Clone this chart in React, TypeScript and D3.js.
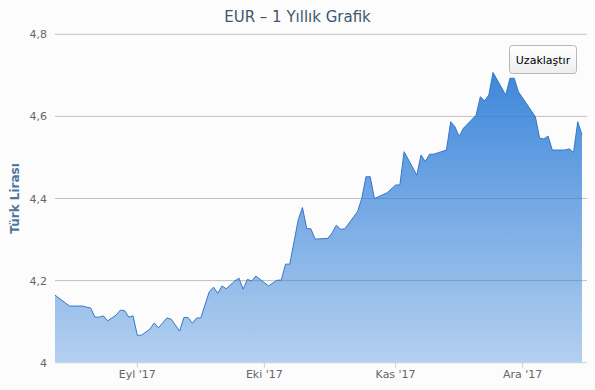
import React from 'react';
import * as d3 from 'd3';

const dates: string[] = [
  '2017-08-12','2017-08-16','2017-08-19','2017-08-21','2017-08-22','2017-08-23','2017-08-24','2017-08-25','2017-08-27','2017-08-28',
  '2017-08-29','2017-08-30','2017-08-31','2017-09-01','2017-09-02','2017-09-04','2017-09-05','2017-09-06','2017-09-08','2017-09-09',
  '2017-09-11','2017-09-12','2017-09-13','2017-09-14','2017-09-15','2017-09-16','2017-09-18','2017-09-19','2017-09-20','2017-09-21',
  '2017-09-22','2017-09-24','2017-09-25','2017-09-26','2017-09-27','2017-09-28','2017-09-29','2017-10-02','2017-10-04','2017-10-05',
  '2017-10-06','2017-10-07','2017-10-09','2017-10-10','2017-10-11','2017-10-12','2017-10-13','2017-10-16','2017-10-17','2017-10-18',
  '2017-10-19','2017-10-20','2017-10-23','2017-10-24','2017-10-25','2017-10-26','2017-10-27','2017-10-30','2017-11-01','2017-11-02',
  '2017-11-03','2017-11-06','2017-11-07','2017-11-08','2017-11-09','2017-11-10','2017-11-13','2017-11-14','2017-11-15','2017-11-16',
  '2017-11-17','2017-11-20','2017-11-21','2017-11-22','2017-11-23','2017-11-24','2017-11-27','2017-11-28','2017-11-29','2017-11-30',
  '2017-12-04','2017-12-05','2017-12-06','2017-12-07','2017-12-08','2017-12-11','2017-12-12','2017-12-13','2017-12-14','2017-12-15',
];

const values: number[] = [
  4.169, 4.138, 4.138, 4.133, 4.111, 4.111, 4.114, 4.102, 4.116, 4.128,
  4.127, 4.111, 4.114, 4.067, 4.067, 4.082, 4.097, 4.085, 4.109, 4.106,
  4.077, 4.110, 4.110, 4.096, 4.109, 4.109, 4.173, 4.184, 4.169, 4.187,
  4.180, 4.199, 4.206, 4.179, 4.203, 4.199, 4.211, 4.187, 4.201, 4.201,
  4.240, 4.240, 4.348, 4.378, 4.327, 4.326, 4.301, 4.303, 4.316, 4.335,
  4.325, 4.326, 4.368, 4.400, 4.453, 4.453, 4.400, 4.414, 4.433, 4.433,
  4.514, 4.457, 4.506, 4.490, 4.508, 4.508, 4.518, 4.587, 4.575, 4.551,
  4.571, 4.603, 4.648, 4.638, 4.652, 4.707, 4.652, 4.693, 4.693, 4.660,
  4.599, 4.547, 4.545, 4.552, 4.518, 4.518, 4.521, 4.512, 4.587, 4.555,
];

const yTicks: number[] = [4, 4.2, 4.4, 4.6, 4.8];
const xTickDates: string[] = ['2017-09-01', '2017-10-01', '2017-11-01', '2017-12-01'];
const xTickLabels: string[] = ["Eyl '17", "Eki '17", "Kas '17", "Ara '17"];

const W = 595;
const H = 390;
const left = 55;
const right = 587;
const top = 34.3;
const bottom = 362.7;

export default function App() {
  const parse = d3.timeParse('%Y-%m-%d');
  const data = dates.map((d, i) => ({ date: parse(d) as Date, value: values[i] }));

  const x = d3
    .scaleTime()
    .domain([new Date(2017, 7, 12, 13, 40), new Date(2017, 11, 16, 4, 30)])
    .range([left, right]);
  const y = d3.scaleLinear().domain([4, 4.8]).range([bottom, top]);

  const area = d3
    .area<{ date: Date; value: number }>()
    .x((d) => x(d.date))
    .y0(y(4))
    .y1((d) => y(d.value));
  const line = d3
    .line<{ date: Date; value: number }>()
    .x((d) => x(d.date))
    .y((d) => y(d.value));

  const font = "'DejaVu Sans', Verdana, sans-serif";

  return (
    <svg
      width={W}
      height={H}
      style={{ position: 'absolute', left: 0, top: 0, background: '#fcfcfc' }}
    >
      <defs>
        <clipPath id="plotClip">
          <rect x={left} y={top - 5} width={right - left} height={bottom - top + 5} />
        </clipPath>
        <linearGradient id="areaGrad" gradientUnits="userSpaceOnUse" x1={0} y1={top} x2={0} y2={bottom}>
          <stop offset="0" stopColor="#2f7ed8" stopOpacity={1} />
          <stop offset="1" stopColor="#2f7ed8" stopOpacity={0.35} />
        </linearGradient>
        <linearGradient id="btnGrad" x1={0} y1={0} x2={0} y2={1}>
          <stop offset="0" stopColor="#ffffff" />
          <stop offset="1" stopColor="#eeeeee" />
        </linearGradient>
      </defs>

      <text
        x={W / 2}
        y={22}
        textAnchor="middle"
        fontFamily={font}
        fontSize={15}
        fill="#3e576f"
      >
        EUR – 1 Yıllık Grafik
      </text>

      {yTicks.map((t) => (
        <g key={t}>
          {t !== 4 && (
            <line x1={left} x2={right} y1={y(t)} y2={y(t)} stroke="#c0c0c0" strokeWidth={1} />
          )}
          <text
            x={47}
            y={y(t) + 4}
            textAnchor="end"
            fontFamily={font}
            fontSize={11}
            fill="#666666"
          >
            {String(t).replace('.', ',')}
          </text>
        </g>
      ))}

      <g clipPath="url(#plotClip)">
        <path d={area(data) || ''} fill="url(#areaGrad)" />
        <path d={line(data) || ''} fill="none" stroke="#3677c6" strokeWidth={1} />
      </g>

      <line x1={left} x2={right} y1={bottom} y2={bottom} stroke="#c0d0e0" strokeWidth={1} />
      {xTickDates.map((d, i) => {
        const xx = x(parse(d) as Date);
        return (
          <g key={d}>
            <line x1={xx} x2={xx} y1={bottom} y2={bottom + 5} stroke="#c0d0e0" strokeWidth={1} />
            <text
              x={xx}
              y={bottom + 15}
              textAnchor="middle"
              fontFamily={font}
              fontSize={11}
              fill="#666666"
            >
              {xTickLabels[i]}
            </text>
          </g>
        );
      })}

      <text
        transform={`translate(19, ${(top + bottom) / 2}) rotate(-90)`}
        textAnchor="middle"
        fontFamily={font}
        fontSize={12}
        fontWeight="bold"
        fill="#4d759e"
      >
        Türk Lirası
      </text>

      <g>
        <rect
          x={509.5}
          y={45.5}
          width={67}
          height={28}
          rx={3}
          fill="url(#btnGrad)"
          stroke="#b8b8b8"
          strokeWidth={1}
        />
        <text
          x={543}
          y={64}
          textAnchor="middle"
          fontFamily={font}
          fontSize={11}
          fill="#000000"
        >
          Uzaklaştır
        </text>
      </g>
    </svg>
  );
}
